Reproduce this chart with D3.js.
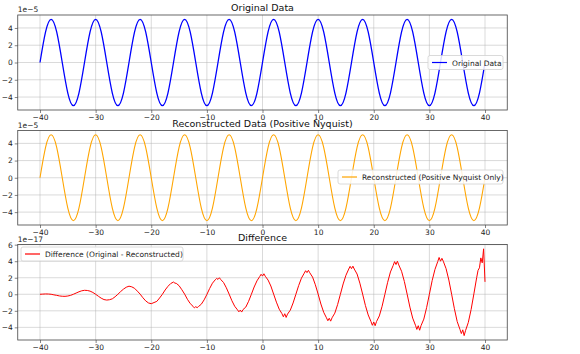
<!DOCTYPE html>
<html>
<head>
<meta charset="utf-8">
<script src="https://cdn.jsdelivr.net/npm/d3@7"></script>
<style>
  body { margin: 0; background: #fff; }
  svg { font-family: "DejaVu Sans", sans-serif; }
</style>
</head>
<body>
<div id="chart"></div>
<script>
// x positions shared by both sine panels
const sineX = [-40,-39,-38,-37,-36,-35,-34,-33,-32,-31,-30,-29,-28,-27,-26,-25,-24,-23,-22,-21,
  -20,-19,-18,-17,-16,-15,-14,-13,-12,-11,-10,-9,-8,-7,-6,-5,-4,-3,-2,-1,
  0,1,2,3,4,5,6,7,8,9,10,11,12,13,14,15,16,17,18,19,
  20,21,22,23,24,25,26,27,28,29,30,31,32,33,34,35,36,37,38,39,40];

// values in units of 1e-5
const originalY = [0,3.54,5,3.54,0,-3.54,-5,-3.54,0,3.54,5,3.54,0,-3.54,-5,-3.54,0,3.54,5,3.54,
  0,-3.54,-5,-3.54,0,3.54,5,3.54,0,-3.54,-5,-3.54,0,3.54,5,3.54,0,-3.54,-5,-3.54,
  0,3.54,5,3.54,0,-3.54,-5,-3.54,0,3.54,5,3.54,0,-3.54,-5,-3.54,0,3.54,5,3.54,
  0,-3.54,-5,-3.54,0,3.54,5,3.54,0,-3.54,-5,-3.54,0,3.54,5,3.54,0,-3.54,-5,-3.54,0];

const reconstructedY = [0,3.54,5,3.54,0,-3.54,-5,-3.54,0,3.54,5,3.54,0,-3.54,-5,-3.54,0,3.54,5,3.54,
  0,-3.54,-5,-3.54,0,3.54,5,3.54,0,-3.54,-5,-3.54,0,3.54,5,3.54,0,-3.54,-5,-3.54,
  0,3.54,5,3.54,0,-3.54,-5,-3.54,0,3.54,5,3.54,0,-3.54,-5,-3.54,0,3.54,5,3.54,
  0,-3.54,-5,-3.54,0,3.54,5,3.54,0,-3.54,-5,-3.54,0,3.54,5,3.54,0,-3.54,-5,-3.54,0];

// difference, [x, value in 1e-17]
const diffData = [
  [-40,0],[-39.5,0.02],[-39,0.04],[-38.5,0.03],[-38,0],[-37.5,-0.07],[-37,-0.13],[-36.5,-0.2],[-36,-0.24],[-35.5,-0.25],
  [-35,-0.21],[-34.5,-0.13],[-34,0],[-33.5,0.15],[-33,0.3],[-32.5,0.42],[-32,0.48],[-31.5,0.46],[-31,0.38],[-30.5,0.22],
  [-30,0],[-29.5,-0.24],[-29,-0.47],[-28.5,-0.64],[-28,-0.7],[-27.5,-0.66],[-27,-0.55],[-26.5,-0.3],[-26,0],[-25.5,0.33],
  [-25,0.62],[-24.5,0.85],[-24,0.98],[-23.5,0.9],[-23,0.72],[-22.5,0.38],[-22,0.02],[-21.5,-0.42],[-21,-0.8],[-20.5,-1.05],
  [-20,-1.14],[-19.5,-1.0],[-19,-0.86],[-18.5,-0.45],[-18,0],[-17.5,0.52],[-17,0.96],[-16.5,1.3],[-16,1.48],[-15.75,1.35],[-15.5,1.32],
  [-15,1.04],[-14.5,0.55],[-14,0.02],[-13.5,-0.6],[-13,-1.12],[-12.5,-1.45],[-12.25,-1.65],[-12,-1.5],[-11.75,-1.62],[-11.5,-1.48],
  [-11,-1.2],[-10.5,-0.68],[-10,-0.02],[-9.5,0.7],[-9,1.34],[-8.5,1.75],[-8.25,1.92],[-8,1.8],[-7.75,2.0],[-7.5,1.78],
  [-7,1.42],[-6.5,0.78],[-6,0.02],[-5.5,-0.78],[-5,-1.45],[-4.5,-1.88],[-4.25,-2.12],[-4,-1.92],[-3.75,-2.15],[-3.5,-1.85],
  [-3,-1.55],[-2.5,-0.85],[-2,0],[-1.5,0.88],[-1,1.62],[-0.5,2.15],[-0.25,2.42],[0,2.2],[0.25,2.48],[0.5,2.18],
  [1,1.72],[1.5,1.0],[2,0.02],[2.5,-0.95],[3,-1.8],[3.5,-2.35],[3.75,-2.72],[4,-2.35],[4.25,-2.8],[4.5,-2.4],
  [5,-1.92],[5.5,-1.05],[6,0],[6.5,1.05],[7,1.95],[7.5,2.55],[7.75,2.85],[8,2.62],[8.25,2.9],[8.5,2.6],
  [9,2.08],[9.5,1.15],[10,0.02],[10.5,-1.18],[11,-2.18],[11.5,-2.85],[11.75,-3.2],[12,-2.9],[12.25,-3.25],[12.5,-2.85],
  [13,-2.28],[13.5,-1.25],[14,0],[14.5,1.25],[15,2.3],[15.5,3.05],[15.75,3.38],[16,3.1],[16.25,3.4],[16.5,3.05],
  [17,2.45],[17.5,1.35],[18,0.02],[18.5,-1.35],[19,-2.5],[19.5,-3.3],[19.75,-3.75],[20,-3.35],[20.25,-3.8],[20.5,-3.3],
  [21,-2.62],[21.5,-1.45],[22,0],[22.5,1.45],[23,2.7],[23.5,3.5],[23.75,3.95],[24,3.6],[24.25,4.0],[24.5,3.55],
  [25,2.78],[25.5,1.55],[26,0.02],[26.5,-1.55],[27,-2.88],[27.5,-3.75],[27.75,-4.25],[28,-3.8],[28.25,-4.35],[28.5,-3.8],
  [29,-3.0],[29.5,-1.62],[30,0],[30.5,1.65],[31,3.0],[31.5,3.95],[31.75,4.45],[32,4.0],[32.25,4.35],[32.5,4.0],
  [33,3.1],[33.5,1.72],[34,0],[34.5,-1.75],[35,-3.3],[35.5,-4.25],[35.75,-4.75],[36,-4.3],[36.25,-5.0],[36.5,-4.4],
  [37,-3.4],[37.5,-1.85],[38,0.05],[38.5,2.0],[38.75,2.9],[39,3.2],[39.25,4.4],[39.5,3.8],[39.75,5.5],[40,1.5]
];

const xTicks = [-40, -30, -20, -10, 0, 10, 20, 30, 40];
const sineTicks = [-4, -2, 0, 2, 4];
const diffTicks = [-4, -2, 0, 2, 4, 6];

const width = 580, height = 354;
const left = 17.75, right = 507.25;

const svg = d3.select("#chart").append("svg")
    .attr("width", width)
    .attr("height", height);

const x = d3.scaleLinear().domain([-44, 44]).range([left, right]);

const fmt = d => String(d).replace("-", "\u2212");

function panel(opts) {
    const y = d3.scaleLinear().domain(opts.ydomain).range([opts.bottom, opts.top]);
    const g = svg.append("g");

    // grid
    g.append("g").selectAll("line").data(xTicks).join("line")
        .attr("x1", d => x(d)).attr("x2", d => x(d))
        .attr("y1", opts.top).attr("y2", opts.bottom)
        .attr("stroke", "#b0b0b0").attr("stroke-opacity", 0.6).attr("stroke-width", 0.8);
    g.append("g").selectAll("line").data(opts.yticks).join("line")
        .attr("x1", left).attr("x2", right)
        .attr("y1", d => y(d)).attr("y2", d => y(d))
        .attr("stroke", "#b0b0b0").attr("stroke-opacity", 0.6).attr("stroke-width", 0.8);

    // line
    const line = d3.line().x(d => x(d[0])).y(d => y(d[1])).curve(opts.curve);
    g.append("path")
        .datum(opts.data)
        .attr("fill", "none")
        .attr("stroke", opts.color)
        .attr("stroke-width", opts.lw)
        .attr("stroke-linejoin", "round")
        .attr("d", line);

    // axes
    const xAxis = d3.axisBottom(x).tickValues(xTicks).tickSize(3).tickPadding(2).tickFormat(fmt);
    const yAxis = d3.axisLeft(y).tickValues(opts.yticks).tickSize(3).tickPadding(2).tickFormat(fmt);
    const gx = g.append("g").attr("transform", `translate(0,${opts.bottom})`).call(xAxis);
    const gy = g.append("g").attr("transform", `translate(${left},0)`).call(yAxis);
    [gx, gy].forEach(a => {
        a.select(".domain").remove();
        a.selectAll("line").attr("stroke", "#333").attr("stroke-width", 0.6);
        a.selectAll("text").attr("fill", "#222").style("font-size", "7.5px")
            .style("font-family", "DejaVu Sans, sans-serif");
    });

    // frame
    g.append("rect")
        .attr("x", left).attr("y", opts.top)
        .attr("width", right - left).attr("height", opts.bottom - opts.top)
        .attr("fill", "none").attr("stroke", "#444").attr("stroke-width", 0.8);

    // title and offset text
    g.append("text")
        .attr("x", (left + right) / 2).attr("y", opts.top - 4)
        .attr("text-anchor", "middle")
        .attr("fill", "#111")
        .style("font-size", "9.5px")
        .text(opts.title);
    g.append("text")
        .attr("x", left).attr("y", opts.top - 3)
        .attr("fill", "#222")
        .style("font-size", "7.5px")
        .text(opts.offset);

    // legend
    const lg = g.append("g").attr("transform", `translate(${opts.legend[0]},${opts.legend[1]})`);
    lg.append("rect")
        .attr("width", opts.legend[2]).attr("height", 14)
        .attr("rx", 2)
        .attr("fill", "white").attr("fill-opacity", 0.85)
        .attr("stroke", "#d0d0d0").attr("stroke-width", 0.8);
    lg.append("line")
        .attr("x1", 4).attr("x2", 19).attr("y1", 7).attr("y2", 7)
        .attr("stroke", opts.color).attr("stroke-width", 1.2);
    lg.append("text")
        .attr("x", 24).attr("y", 10)
        .attr("fill", "#222")
        .style("font-size", "7.5px")
        .text(opts.label);
}

panel({
    top: 15, bottom: 110, ydomain: [-5.5, 5.5], yticks: sineTicks,
    data: sineX.map((d, i) => [d, originalY[i]]), color: "blue", lw: 1.3,
    curve: d3.curveNatural,
    title: "Original Data", offset: "1e\u22125",
    legend: [428, 55.5, 75], label: "Original Data"
});

panel({
    top: 130.5, bottom: 225, ydomain: [-5.5, 5.5], yticks: sineTicks,
    data: sineX.map((d, i) => [d, reconstructedY[i]]), color: "orange", lw: 1.1,
    curve: d3.curveNatural,
    title: "Reconstructed Data (Positive Nyquist)", offset: "1e\u22125",
    legend: [338, 170, 165], label: "Reconstructed (Positive Nyquist Only)"
});

panel({
    top: 244.5, bottom: 340, ydomain: [-5.53, 6.02], yticks: diffTicks,
    data: diffData, color: "red", lw: 1,
    curve: d3.curveLinear,
    title: "Difference", offset: "1e\u221217",
    legend: [21, 247, 162], label: "Difference (Original - Reconstructed)"
});
</script>
</body>
</html>
